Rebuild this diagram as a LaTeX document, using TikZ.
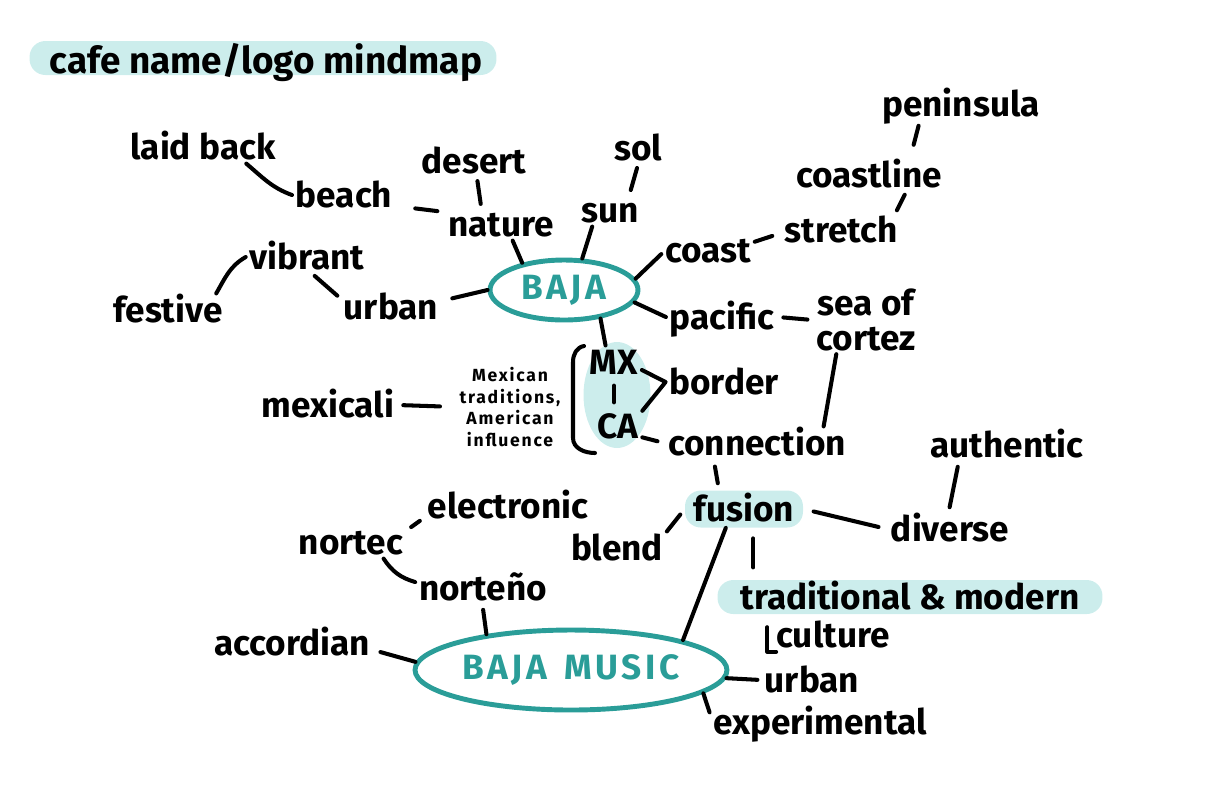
\documentclass[tikz,border=0pt]{standalone}
\usepackage{fontspec}
\setmainfont{Fira Sans}
\usetikzlibrary{shapes.geometric}
\definecolor{bajateal}{HTML}{2A9D98}
\definecolor{bajamint}{HTML}{CCEDEC}
\tikzset{
  wordnode/.style={inner sep=2pt,text height=14.5pt,text depth=0pt,font=\fontsize{20}{20}\selectfont\bfseries},
  notenode/.style={inner sep=1pt,align=center,font=\fontsize{10}{12.5}\selectfont\bfseries\addfontfeature{LetterSpace=10}},
  hubnode/.style={ellipse,draw=bajateal,line width=2.8pt,text=bajateal,inner sep=0pt,font=\fontsize{20}{20}\selectfont\bfseries\addfontfeature{LetterSpace=10}},
  mintbox/.style={fill=bajamint,rounded corners=9pt,inner sep=0pt},
  twig/.style={line width=2.3pt,line cap=round,line join=round,black},
}
\begin{document}
\begin{tikzpicture}[x=0.02cm,y=0.02cm]
  \useasboundingbox (0,0) rectangle (1226,-796);
  % highlights
  \node[mintbox,minimum width=9.34cm,minimum height=0.68cm] (titlebar) at (263,-58) {};
  \node[mintbox,ellipse,minimum width=1.34cm,minimum height=2.12cm] (mxca) at (617,-395) {};
  \node[mintbox,minimum width=2.36cm,minimum height=0.74cm] (fusionbar) at (744,-509) {};
  \node[mintbox,minimum width=7.7cm,minimum height=0.68cm] (tradbar) at (910,-597) {};
  \node[wordnode,font=\fontsize{21}{21}\selectfont\bfseries] (title) at (266,-61) {cafe name/logo mindmap};

  % hubs
  \node[hubnode,minimum width=2.96cm,minimum height=1.2cm] (baja) at (564,-290) {BAJA};
  \node[hubnode,minimum width=6.24cm,minimum height=1.6cm] (music) at (571,-670) {BAJA\enspace MUSIC};

  % words
  \node[wordnode] (laid) at (203,-147) {laid back};
  \node[wordnode] (beach) at (344,-195) {beach};
  \node[wordnode] (desert) at (474,-161) {desert};
  \node[wordnode] (nature) at (501,-224) {nature};
  \node[wordnode] (sol) at (638,-148) {sol};
  \node[wordnode] (sun) at (610,-210) {sun};
  \node[wordnode] (peninsula) at (961,-104) {peninsula};
  \node[wordnode] (coastline) at (869,-175) {coastline};
  \node[wordnode] (stretch) at (841,-230) {stretch};
  \node[wordnode] (coast) at (708,-250) {coast};
  \node[wordnode] (vibrant) at (307,-257) {vibrant};
  \node[wordnode] (festive) at (168,-310) {festive};
  \node[wordnode] (urbanA) at (391,-307) {urban};
  \node[wordnode] (pacific) at (722,-317) {pacific};
  \node[wordnode,align=center,text height=34.5pt] (seaof) at (866,-320) {sea of\\cortez};
  \node[wordnode] (mx) at (614,-362) {MX};
  \node[wordnode] (ca) at (618,-426) {CA};
  \node[wordnode] (border) at (724,-382) {border};
  \node[wordnode] (mexicali) at (328,-405) {mexicali};
  \node[notenode] (mexnote) at (510,-407) {Mexican\\traditions,\\American\\influence};
  \node[wordnode] (connection) at (757,-443) {connection};
  \node[wordnode] (authentic) at (1007,-445) {authentic};
  \node[wordnode] (fusion) at (744,-509) {fusion};
  \node[wordnode] (diverse) at (950,-529) {diverse};
  \node[wordnode] (blend) at (617,-548) {blend};
  \node[wordnode] (electronic) at (508,-506) {electronic};
  \node[wordnode] (nortec) at (351,-542) {nortec};
  \node[wordnode] (nortenyo) at (483,-588) {norteño};
  \node[wordnode] (tradmod) at (910,-597) {traditional \& modern};
  \node[wordnode] (culture) at (833,-635) {culture};
  \node[wordnode] (accordian) at (292,-643) {accordian};
  \node[wordnode] (urbanB) at (812,-680) {urban};
  \node[wordnode] (experimental) at (820,-722) {experimental};

  % around baja
  \draw[twig] (laid.-21) to[out=-40,in=160] (beach.west);
  \draw[twig,shorten <=11pt,shorten >=4pt] (beach.-12) -- (nature.168);
  \draw[twig,shorten <=2pt,shorten >=2pt] (desert.-80) -- (nature.140);
  \draw[twig] (nature.-55) -- (baja.147);
  \draw[twig] (sun.-137) -- (baja.60);
  \draw[twig,shorten <=2pt,shorten >=2pt] (sol.-90) -- (sun.40);
  \draw[twig] (coast.185) -- (baja.9);
  \draw[twig,shorten >=5pt] (coast.10) -- (stretch.183);
  \draw[twig,shorten <=2pt,shorten >=2pt] (stretch.17) -- (coastline.-24);
  \draw[twig,shorten <=8pt,shorten >=3pt] (coastline.22) -- (peninsula.-158);
  \draw[twig,shorten <=6pt] (urbanA.7) -- (baja.west);
  \draw[twig,shorten <=2pt,shorten >=2pt] (vibrant.-73) -- (urbanA.170);
  \draw[twig] (vibrant.west) to[out=210,in=60] (festive.19);
  \draw[twig] (baja.-10) -- (pacific.west);
  \draw[twig,shorten <=3pt,shorten >=3pt] (pacific.east) -- (seaof.west);
  \draw[twig] (baja.-38) -- (mx.117);

  % MX / CA
  \draw[twig] (584,-346) to[out=190,in=90] (573,-362) -- (573,-438) to[out=-90,in=180] (595,-453);
  \draw[twig,shorten <=4pt,shorten >=4pt] (mx.south) -- (mx.south |- ca.north);
  \draw[twig] (mx.-16) -- (border.west) -- (ca.32);
  \draw[twig,shorten >=4pt] (ca.-25) -- (connection.west);
  \draw[twig,shorten <=3pt,shorten >=10pt] (mexicali.east) -- (mexnote.west);
  \draw[twig] (seaof.-131) -- (connection.14);
  \draw[twig,shorten <=4pt,shorten >=4pt] (connection.-159) -- (fusionbar.143);

  % fusion
  \draw[twig,shorten <=3pt,shorten >=3pt] (authentic.-161) -- (diverse.95);
  \draw[twig,shorten <=6pt,shorten >=5pt] (fusionbar.east) -- (diverse.west);
  \draw[twig,shorten <=4pt] (fusionbar.west) -- (blend.north east);
  \draw[twig,shorten <=6pt,shorten >=7pt] (fusionbar.-64) -- (fusionbar.-64 |- tradbar.north);
  \draw[twig] (fusionbar.-134) -- (music.15);
  \draw[twig] ([xshift=-3pt,yshift=-5pt]culture.north west) |- ([xshift=2pt]culture.south west);

  % baja music
  \draw[twig,shorten <=3pt,shorten >=3pt] (nortec.12) -- (electronic.188);
  \draw[twig] (nortec.-27) to[bend right=20] (nortenyo.175);
  \draw[twig,shorten <=3pt] (nortenyo.-92) -- (music.157);
  \draw[twig,shorten <=4pt] (accordian.-5) -- (music.177);
  \draw[twig,shorten >=2pt] (music.-3) -- (urbanB.west);
  \draw[twig] (music.-10) -- (experimental.175);
\end{tikzpicture}
\end{document}
